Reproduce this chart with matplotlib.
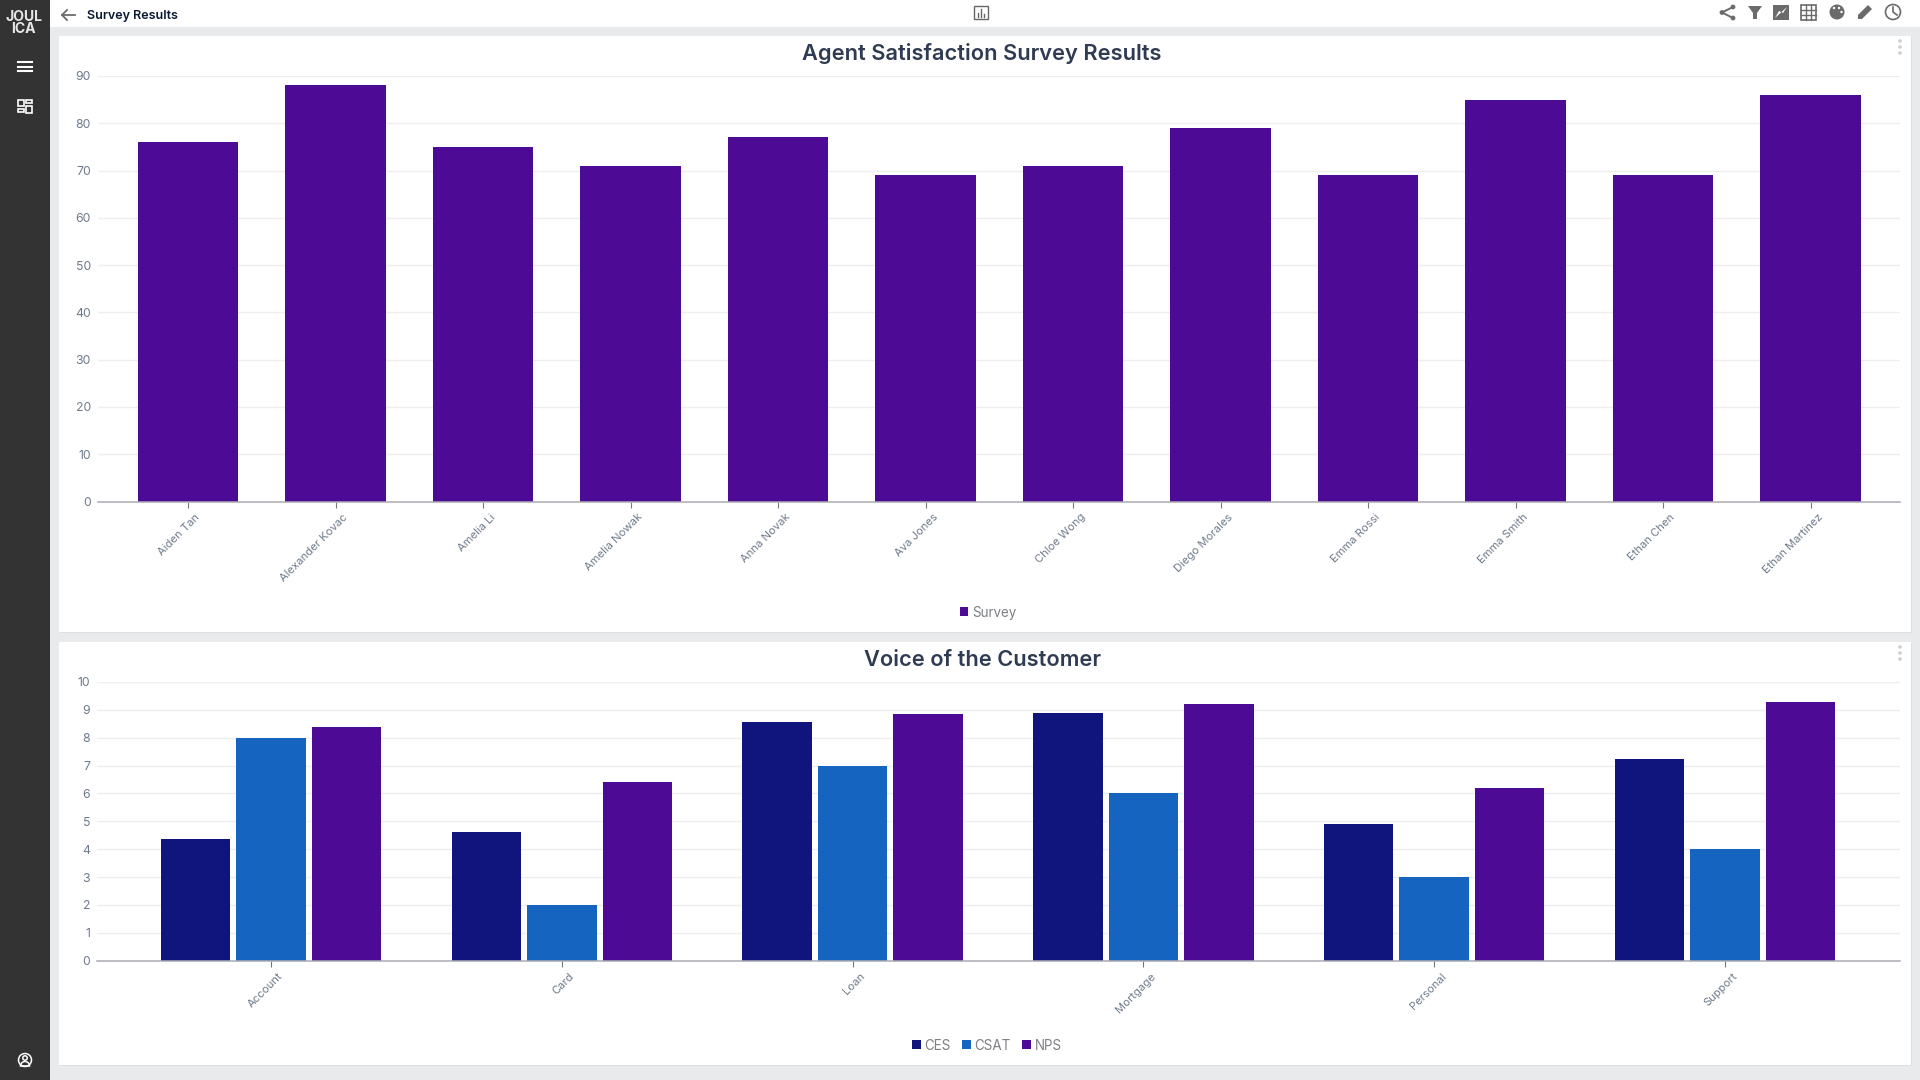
import matplotlib
matplotlib.use("Agg")
import matplotlib.pyplot as plt
from matplotlib.patches import Rectangle, Circle, Polygon, Wedge
from matplotlib.transforms import ScaledTranslation
import numpy as np

agents = ["Aiden Tan", "Alexander Kovac", "Amelia Li", "Amelia Nowak", "Anna Novak", "Ava Jones",
          "Chloe Wong", "Diego Morales", "Emma Rossi", "Emma Smith", "Ethan Chen", "Ethan Martinez"]
survey = [76, 88, 75, 71, 77, 69, 71, 79, 69, 85, 69, 86]

products = ["Account", "Card", "Loan", "Mortgage", "Personal", "Support"]
ces = [4.35, 4.6, 8.55, 8.9, 4.9, 7.25]
csat = [8, 2, 7, 6, 3, 4]
nps = [8.4, 6.4, 8.85, 9.2, 6.2, 9.3]

PURPLE, NAVY, BLUE = "#4C0A95", "#10157E", "#1565C0"
GRID = "#EDEEF0"; TICK = "#6E7A8A"; AXIS = "#A9ACB3"; TITLE = "#2F3B52"; LEG = "#7D7F85"

plt.rcParams["font.family"] = ["Inter", "DejaVu Sans"]
W, H = 1920, 1080
fig = plt.figure(figsize=(W / 100, H / 100), dpi=100, facecolor="#E9EAEC")
px = lambda n: n * 0.72  # CSS px to points at dpi 100

# page chrome, in pixel coordinates
bg = fig.add_axes([0, 0, 1, 1], zorder=0)
bg.set_xlim(0, W); bg.set_ylim(H, 0); bg.axis("off")
bg.add_patch(Rectangle((50, 0), W - 50, 27, fc="white", ec="none"))
bg.add_patch(Rectangle((0, 0), 50, H, fc="#333333", ec="none"))
for (y0, y1) in [(36, 632), (642, 1065)]:
    bg.add_patch(Rectangle((59.5, y0 + 1), 1852, y1 - y0, fc="#DDDEE0", ec="none"))
    bg.add_patch(Rectangle((59, y0), 1852, y1 - y0, fc="white", ec="none"))
    for dy in (6, 12, 18):
        bg.add_patch(Circle((1900, y0 + dy - 1), 1.8, fc="#CFCFCF", ec="none"))
bg.text(23.5, 23, "JOUL\nICA", color="#E6E6E6", fontsize=px(14), fontweight="bold",
        ha="center", va="center", linespacing=0.75)
for y in (61.5, 66.5, 71):
    bg.plot([18, 32], [y, y], color="white", lw=1.5)
for (x, y, w, h) in [(18, 100, 6, 6), (26, 100, 6, 3), (18, 109, 6, 3), (26, 106, 6, 7)]:
    bg.add_patch(Rectangle((x, y), w, h, fc="none", ec="white", lw=1.2))
bg.add_patch(Circle((25, 1060), 6.5, fc="none", ec="white", lw=1.1))
bg.add_patch(Circle((25, 1058), 2.2, fc="none", ec="white", lw=1.1))
bg.add_patch(Wedge((25, 1066), 4.5, 180, 360, fc="none", ec="white", lw=1.1))
bg.plot([62, 75], [15, 15], color="#6B6B6B", lw=1.3)
bg.plot([67, 62, 67], [10, 15, 20], color="#6B6B6B", lw=1.3)
bg.text(87, 16, "Survey Results", color="#0B1A33", fontsize=px(12.6), fontweight="semibold", va="center")
# report icon at top centre
bg.add_patch(Rectangle((974, 6), 14, 13, fc="none", ec="#666666", lw=1))
for x, h in [(978, 4), (981, 8), (984, 3)]:
    bg.plot([x, x], [17, 17 - h], color="#666666", lw=1)
# toolbar icons
IC = "#6B6B6B"
bg.plot([1733, 1722, 1733], [7, 12.5, 18], color=IC, lw=1.4)
for p in [(1733, 7), (1722, 12.5), (1733, 18)]:
    bg.add_patch(Circle(p, 2.4, fc=IC, ec="none"))
bg.add_patch(Polygon([(1748, 6), (1762, 6), (1757, 13), (1757, 19), (1753, 19), (1753, 13)], fc=IC, ec="none"))
bg.add_patch(Rectangle((1773, 5), 16, 15, fc=IC, ec="none"))
bg.add_patch(Polygon([(1775, 18), (1779, 11), (1783, 13), (1787, 7), (1787, 7)], fc="white", ec="none"))
bg.add_patch(Rectangle((1801, 4.5), 15, 15, fc="none", ec=IC, lw=1.2))
for d in (5, 10):
    bg.plot([1801 + d] * 2, [4.5, 19.5], color=IC, lw=1)
    bg.plot([1801, 1816], [4.5 + d] * 2, color=IC, lw=1)
bg.add_patch(Circle((1837, 12), 7.5, fc=IC, ec="none"))
for p in [(1834, 8), (1839, 8), (1841.5, 12)]:
    bg.add_patch(Circle(p, 1.2, fc="white", ec="none"))
bg.add_patch(Polygon([(1858, 19), (1858, 15), (1868, 5), (1872, 9), (1862, 19)], fc=IC, ec="none"))
bg.add_patch(Circle((1893, 12), 7.5, fc="none", ec=IC, lw=1.2))
bg.plot([1893, 1893, 1897], [7, 12, 15], color=IC, lw=1.2)
bg.text(982, 53, "Agent Satisfaction Survey Results", color=TITLE, fontsize=px(21.8),
        fontweight="semibold", ha="center", va="center")
bg.text(982, 660, "Voice of the Customer", color=TITLE, fontsize=px(21.8),
        fontweight="semibold", ha="center", va="center")


def chart_axes(l, t, r, b):
    ax = fig.add_axes([l / W, 1 - b / H, (r - l) / W, (b - t) / H], zorder=1)
    ax.patch.set_alpha(0)
    for s in ("top", "left", "right"):
        ax.spines[s].set_visible(False)
    ax.spines["bottom"].set_color(AXIS)
    ax.spines["bottom"].set_linewidth(1.1)
    ax.set_axisbelow(True)
    ax.grid(axis="y", color=GRID, lw=1)
    ax.tick_params(axis="y", length=0, pad=5, labelsize=px(12.3), labelcolor=TICK)
    ax.tick_params(axis="x", length=4, width=0.8, color="#777777", pad=3.5, labelsize=px(11.2), labelcolor=TICK)
    return ax


def slant(ax, labels):
    ax.set_xticklabels(labels, rotation=45, ha="right", va="top", rotation_mode="anchor")
    off = ScaledTranslation(7 / 100, 0, fig.dpi_scale_trans)
    for t in ax.get_xticklabels():
        t.set_transform(t.get_transform() + off)


def legend(ax, cx, cy, ncol):
    ax.legend(loc="center", bbox_to_anchor=(cx / W, 1 - cy / H), bbox_transform=fig.transFigure,
              ncol=ncol, frameon=False, fontsize=px(13.4), labelcolor=LEG, handlelength=0.62,
              handleheight=0.62, handletextpad=0.3, columnspacing=0.85, borderpad=0, borderaxespad=0)


# top chart
ax1 = chart_axes(98, 76, 1900, 501.5)
x1 = np.arange(len(agents))
ax1.bar(x1, survey, width=0.682, color=PURPLE, label="Survey")
ax1.set_xlim(-90 / 147.5, (1900 - 188) / 147.5)
ax1.set_ylim(0, 90)
ax1.set_yticks(range(0, 91, 10))
ax1.set_xticks(x1)
slant(ax1, agents)
legend(ax1, 988, 612.5, 1)

# bottom chart
ax2 = chart_axes(97, 682, 1900, 960.7)
x2 = np.arange(len(products))
step = 75.5 / 290.8
bw = 69.5 / 290.8
ax2.bar(x2 - step, ces, width=bw, color=NAVY, label="CES")
ax2.bar(x2, csat, width=bw, color=BLUE, label="CSAT")
ax2.bar(x2 + step, nps, width=bw, color=PURPLE, label="NPS")
ax2.set_xlim(-(271 - 97) / 290.8, (1900 - 271) / 290.8)
ax2.set_ylim(0, 10)
ax2.set_yticks(range(0, 11))
ax2.set_xticks(x2)
slant(ax2, products)
legend(ax2, 987, 1045.5, 3)

fig.savefig("out.png", dpi=100)
